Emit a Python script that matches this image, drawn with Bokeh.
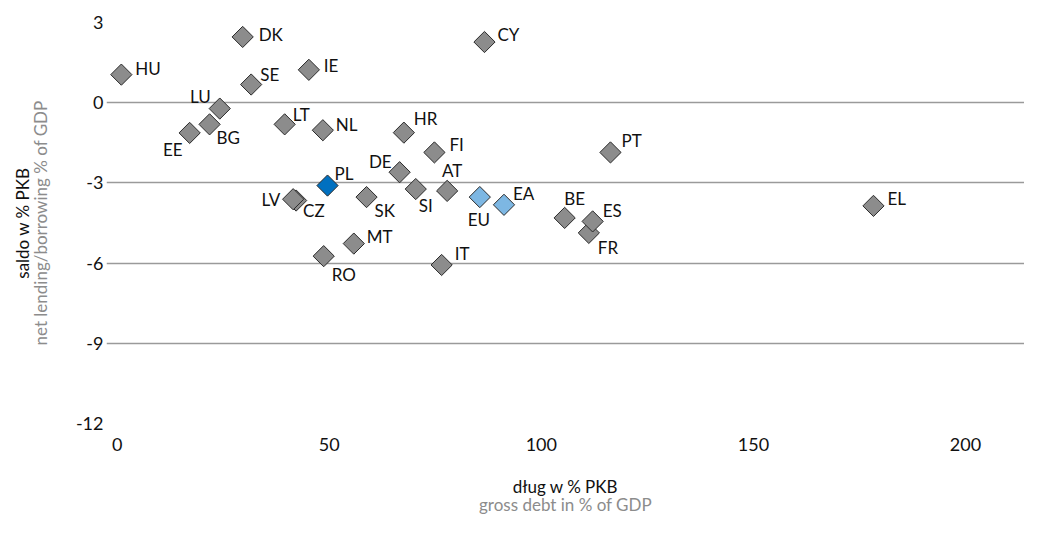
import math
from bokeh.plotting import figure
from bokeh.models import ColumnDataSource, FixedTicker, LinearAxis, CustomJSTickFormatter
from bokeh.core.properties import value
from bokeh.embed import file_html
from bokeh.resources import INLINE

# ---- data ----
countries = ["HU", "DK", "SE", "IE", "LU", "BG", "EE", "LT", "NL", "HR", "FI", "DE",
             "AT", "CZ", "LV", "SK", "SI", "BE", "FR", "ES", "PT", "MT", "RO", "IT",
             "CY", "EL", "PL", "EU", "EA"]
debt = [1.0, 29.6, 31.6, 45.2, 24.2, 21.8, 17.1, 39.5, 48.5, 67.6, 74.8, 66.6,
        77.8, 42.2, 41.5, 58.8, 70.4, 105.5, 111.2, 112.1, 116.3, 55.8, 48.7, 76.5,
        86.6, 178.3, 49.6, 85.5, 91.2]
balance = [1.05, 2.46, 0.68, 1.23, -0.22, -0.81, -1.13, -0.81, -1.03, -1.12, -1.86, -2.60,
           -3.30, -3.66, -3.61, -3.53, -3.23, -4.31, -4.87, -4.44, -1.86, -5.27, -5.74, -6.07,
           2.27, -3.86, -3.10, -3.53, -3.82]
y_ticks = [-12, -9, -6, -3, 0, 3]
x_ticks = [0, 50, 100, 150, 200]

# ---- styles (label placement in screen px) ----
label_pos = {
    "HU": (14, -6, "left"), "DK": (16, -2, "left"), "SE": (9, -10, "left"),
    "IE": (15, -4, "left"), "LU": (-9, -12, "right"), "BG": (7, 13, "left"),
    "EE": (-7, 17, "right"), "LT": (8, -10, "left"), "NL": (13, -6, "left"),
    "HR": (10, -14, "left"), "FI": (15, -8, "left"), "DE": (-8, -11, "right"),
    "PL": (7, -12, "left"), "AT": (5, -20, "center"), "LV": (-13, 0, "right"),
    "CZ": (7, 10, "left"), "SK": (8, 13, "left"), "SI": (3, 16, "left"),
    "EU": (-1, 22, "center"), "EA": (9, -11, "left"), "BE": (10, -19, "center"),
    "ES": (10, -11, "left"), "FR": (9, 15, "left"), "PT": (11, -12, "left"),
    "MT": (13, -7, "left"), "RO": (8, 18, "left"), "IT": (13, -11, "left"),
    "CY": (13, -8, "left"), "EL": (14, -7, "left"),
}
fill_map = {"PL": "#0070c0", "EU": "#7db7e3", "EA": "#7db7e3"}
GRAY = "#8c8c8c"
DARK = "#111111"
FONT = "Lato"

src = ColumnDataSource(dict(
    x=debt, y=balance, label=countries,
    fill=[fill_map.get(c, GRAY) for c in countries],
    dx=[label_pos[c][0] for c in countries],
    dy=[label_pos[c][1] for c in countries],
    align=[label_pos[c][2] for c in countries],
))

p = figure(width=1024, height=517, output_backend="svg", toolbar_location=None,
           x_range=(-2.5, 213.9), y_range=(-12, 3),
           x_axis_label="dług w % PKB", y_axis_label="net lending/borrowing % of GDP",
           min_border_left=106, min_border_right=0, min_border_top=22, min_border_bottom=91)
p.outline_line_color = None

p.xgrid.grid_line_color = None
p.ygrid.grid_line_color = "#9a9a9a"
p.ygrid.grid_line_width = 1.4
p.ygrid.ticker = FixedTicker(ticks=y_ticks)

p.yaxis.ticker = FixedTicker(ticks=y_ticks)
p.xaxis.ticker = FixedTicker(ticks=x_ticks)
fmt = CustomJSTickFormatter(code="return String(tick);")


def style_axis(ax):
    ax.axis_line_color = None
    ax.major_tick_line_color = None
    ax.minor_tick_line_color = None
    ax.major_tick_out = 0
    ax.major_tick_in = 0
    ax.minor_tick_out = 0
    ax.minor_tick_in = 0
    ax.major_label_text_font = FONT
    ax.major_label_text_font_size = "18px"
    ax.major_label_text_color = DARK
    ax.axis_label_text_font = FONT
    ax.axis_label_text_font_size = "17px"
    ax.axis_label_text_font_style = "normal"


for ax in (p.xaxis[0], p.yaxis[0]):
    style_axis(ax)
    ax.formatter = fmt

p.yaxis.major_label_standoff = 3
p.xaxis.major_label_standoff = 14
p.xaxis.axis_label_standoff = 22
p.xaxis.axis_label_text_color = DARK
p.yaxis.axis_label_standoff = 22
p.yaxis.axis_label_text_color = GRAY

# outer titles via extra tick-less axes
x2 = LinearAxis(axis_label="gross debt in % of GDP", ticker=FixedTicker(ticks=[]))
style_axis(x2)
x2.axis_label_standoff = -6
x2.major_label_standoff = 0
x2.axis_label_text_color = GRAY
p.add_layout(x2, "below")

y2 = LinearAxis(axis_label="saldo w % PKB", ticker=FixedTicker(ticks=[]))
style_axis(y2)
y2.axis_label_standoff = -6
y2.major_label_standoff = 0
y2.axis_label_text_color = DARK
p.add_layout(y2, "left")

p.scatter("x", "y", source=src, marker="square", angle=math.pi / 4, size=15,
          fill_color="fill", line_color="#2b2b2b", line_width=1)

p.text("x", "y", text="label", source=src, x_offset="dx", y_offset="dy",
       text_align="align", text_baseline="middle",
       text_font=value(FONT), text_font_size="17px", text_color=DARK)

open("out.html", "w").write(file_html(p, INLINE))
